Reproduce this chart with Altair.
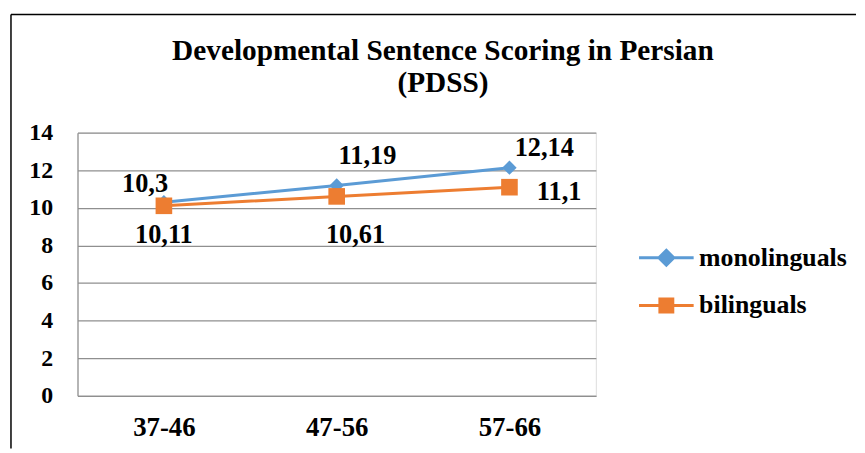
import altair as alt
import pandas as pd

categories = ["37-46", "47-56", "57-66"]
series_names = ["monolinguals", "bilinguals"]
monolinguals = [10.3, 11.19, 12.14]
bilinguals = [10.11, 10.61, 11.1]
y_ticks = [0, 2, 4, 6, 8, 10, 12, 14]
title_lines = ["Developmental Sentence Scoring in Persian", "(PDSS)"]

rows = []
for name, vals in zip(series_names, [monolinguals, bilinguals]):
    for c, v in zip(categories, vals):
        rows.append({"age": c, "group": name, "score": v,
                     "label": str(v).replace(".", ",")})
df = pd.DataFrame(rows)

FONT = "Liberation Serif"
BLUE = "#5B9BD5"
ORANGE = "#ED7D31"
GRID = "#8F8F8F"
series_colors = {"monolinguals": BLUE, "bilinguals": ORANGE}

x_enc = alt.X("age:N", sort=categories,
              scale=alt.Scale(type="point", padding=0.5),
              axis=alt.Axis(title=None, labelAngle=0, ticks=False, grid=False,
                            domainColor=GRID, domainWidth=1.2,
                            labelFont=FONT, labelFontSize=27, labelFontWeight="bold",
                            labelColor="black", labelPadding=19))
y_enc = alt.Y("score:Q",
              scale=alt.Scale(domain=[0, 14], nice=False),
              axis=alt.Axis(title=None, values=y_ticks, ticks=False,
                            grid=True, gridColor=GRID, gridWidth=1.2,
                            domainColor=GRID, domainWidth=1.2,
                            labelFont=FONT, labelFontSize=24, labelFontWeight="bold",
                            labelColor="black", labelPadding=25))

color_scale = alt.Scale(domain=series_names, range=[BLUE, ORANGE])

# legend glyphs: a line with a marker drawn from stroked sub-paths
mono_glyph = ("M-1,0L1,0"
              "M0,-0.273L0.273,0L0,0.273L-0.273,0Z"
              "M0,-0.182L0.182,0L0,0.182L-0.182,0Z"
              "M0,-0.091L0.091,0L0,0.091L-0.091,0Z"
              "M0,-0.02L0.02,0L0,0.02L-0.02,0Z")
bi_glyph = ("M-1,0L1,0"
            "M-0.291,-0.236L0.291,-0.236M-0.291,-0.145L0.291,-0.145"
            "M-0.291,-0.055L0.291,-0.055M-0.291,0.055L0.291,0.055"
            "M-0.291,0.145L0.291,0.145M-0.291,0.236L0.291,0.236")

base = alt.Chart(df)

line_layers = []
point_layers = []
for name, shape, size in [("monolinguals", "diamond", 210), ("bilinguals", "square", 280)]:
    sub = base.transform_filter(alt.datum.group == name)
    line_layers.append(sub.mark_line(strokeWidth=3, color=series_colors[name]).encode(x=x_enc, y=y_enc))
    point_layers.append(
        sub.mark_point(filled=True, opacity=1, shape=shape, size=size, color=series_colors[name])
        .encode(x=x_enc, y=y_enc)
    )

legend_props = dict(title=None, orient="none", legendX=564, legendY=97,
                    symbolSize=3025, rowPadding=5, labelOffset=4,
                    padding=0, symbolStrokeWidth=3, symbolOpacity=1,
                    labelFont=FONT, labelFontSize=26,
                    labelFontWeight="bold", labelColor="black")
legend_layer = base.mark_point(filled=False, opacity=0, strokeWidth=3).encode(
    x=x_enc, y=y_enc,
    color=alt.Color("group:N", scale=color_scale, legend=alt.Legend(**legend_props)),
    shape=alt.Shape("group:N", scale=alt.Scale(domain=series_names, range=[mono_glyph, bi_glyph]),
                    legend=alt.Legend(**legend_props)),
)

label_offsets = {
    ("monolinguals", "37-46"): (-19, -10),
    ("bilinguals", "37-46"): (0, 37),
    ("monolinguals", "47-56"): (31, -22),
    ("bilinguals", "47-56"): (19, 47),
    ("monolinguals", "57-66"): (35, -12),
    ("bilinguals", "57-66"): (50, 13),
}
texts = []
for (g, c), (dx, dy) in label_offsets.items():
    texts.append(
        base.transform_filter((alt.datum.group == g) & (alt.datum.age == c))
        .mark_text(font=FONT, fontSize=26.5, fontWeight="bold", color="black",
                   align="center", baseline="alphabetic", dx=dx, dy=dy)
        .encode(x=x_enc, y=y_enc, text="label:N")
    )

frame_df = pd.DataFrame({"k": [0]})
left_rule = alt.Chart(frame_df).mark_rule(color="black", strokeWidth=1.5).encode(
    x=alt.value(-67), y=alt.value(-119), y2=alt.value(318))
top_rule = alt.Chart(frame_df).mark_rule(color="black", strokeWidth=1.5).encode(
    x=alt.value(-67), x2=alt.value(784), y=alt.value(-119))

chart = alt.layer(left_rule, top_rule, legend_layer, *line_layers, *point_layers, *texts).properties(
    width=522, height=265,
    title=alt.TitleParams(text=title_lines, font=FONT, fontSize=29.5, fontWeight="bold",
                          color="black", anchor="middle", dx=107, dy=108, offset=0,
                          lineHeight=32, baseline="alphabetic"),
    padding={"left": 2, "top": 4, "right": 0, "bottom": 0},
).configure_view(stroke=None).configure(background="white")

chart.save("out.html", embed_options={"renderer": "svg", "actions": False})
